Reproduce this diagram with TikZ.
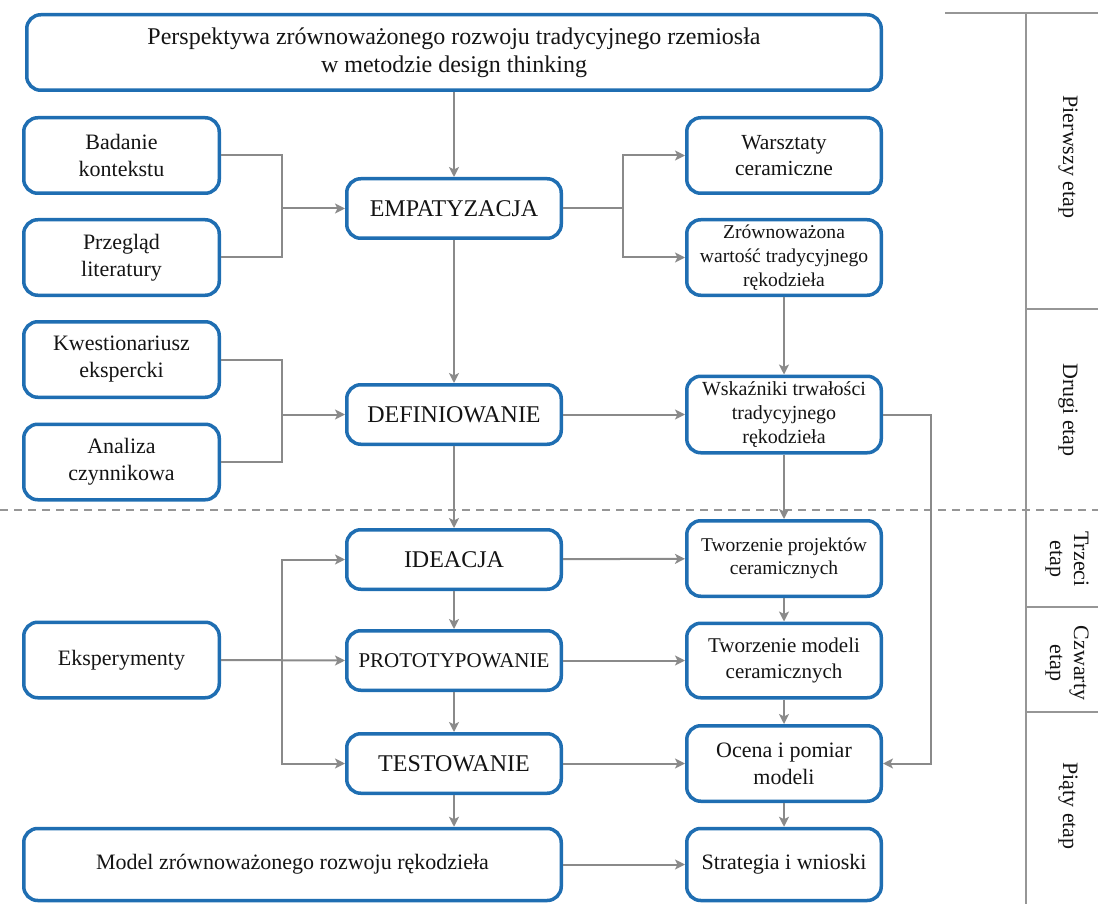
\documentclass[tikz,border=0pt]{standalone}
\usepackage{fontspec}
\setmainfont{Liberation Serif}
\usetikzlibrary{arrows.meta}
\definecolor{boxblue}{RGB}{31,110,178}
\definecolor{linegray}{RGB}{138,138,138}
\definecolor{rulegray}{RGB}{150,150,150}

\begin{document}
\begin{tikzpicture}[x=1pt,y=-1pt,
  box/.style={draw=boxblue, line width=3.5pt, rounded corners=14pt, fill=white,
              align=center, inner sep=2pt, text=black!92},
  sidebox/.style={box, minimum width=195.5pt, minimum height=75.5pt},
  midbox/.style={box, minimum width=214.5pt, minimum height=59.5pt},
  rightbox/.style={box, minimum width=194.5pt, minimum height=75.5pt},
  conn/.style={draw=linegray, line width=2pt},
  arr/.style={conn, -{Stealth[length=10pt, width=10pt, inset=2.5pt]}},
  stage/.style={rotate=-90, align=center, text=black!92, font=\fontsize{22}{24}\selectfont},
  rule/.style={draw=rulegray, line width=1.8pt}
]
\useasboundingbox (0,0) rectangle (1098,904);

% phase separator and stage column
\draw[rule, dashed, dash pattern=on 8pt off 6pt] (0,510) -- (1098,510);
\draw[rule] (945,13) -- (1098,13);
\draw[rule] (1026,13) -- (1026,904);
\draw[rule] (1026,309) -- (1098,309);
\draw[rule] (1026,607) -- (1098,607);
\draw[rule] (1026,712) -- (1098,712);

\node[stage] (s1) at (1068,157) {Pierwszy etap};
\node[stage] (s2) at (1068,410) {Drugi etap};
\node[stage] (s3) at (1067,559) {Trzeci\\etap};
\node[stage] (s4) at (1067,663) {Czwarty\\etap};
\node[stage] (s5) at (1068,806) {Piąty etap};

% boxes
\node[box, minimum width=854.5pt, minimum height=75.5pt, font=\fontsize{24}{28}\selectfont]
  (top) at (454,52.5) {Perspektywa zrównoważonego rozwoju tradycyjnego rzemiosła\\w metodzie design thinking};

\node[sidebox, font=\fontsize{22}{27}\selectfont] (bad) at (121.5,155.5) {Badanie\\kontekstu};
\node[sidebox, font=\fontsize{22}{27}\selectfont] (prz) at (121.5,257.5) {Przegląd\\literatury};
\node[sidebox, font=\fontsize{22}{27}\selectfont] (kwe) at (121.5,359.5) {Kwestionariusz\\ekspercki};
\node[sidebox, font=\fontsize{22}{27}\selectfont] (ana) at (121.5,462) {Analiza\\czynnikowa};
\node[sidebox, font=\fontsize{22}{27}\selectfont] (eks) at (121.5,660) {Eksperymenty};

\node[midbox, font=\fontsize{24}{28}\selectfont] (emp) at (454,208.5) {EMPATYZACJA};
\node[midbox, font=\fontsize{24}{28}\selectfont] (def) at (454,414.5) {DEFINIOWANIE};
\node[midbox, font=\fontsize{24}{28}\selectfont] (ide) at (454,559.5) {IDEACJA};
\node[midbox, font=\fontsize{21}{25}\selectfont] (pro) at (454,660.5) {PROTOTYPOWANIE};
\node[midbox, font=\fontsize{24}{28}\selectfont] (tes) at (454,763.5) {TESTOWANIE};

\node[box, minimum width=537.5pt, minimum height=72pt, font=\fontsize{22}{27}\selectfont]
  (mod) at (292.5,864.5) {Model zrównoważonego rozwoju rękodzieła};

\node[rightbox, font=\fontsize{21.5}{26}\selectfont] (war) at (784,155.5) {Warsztaty\\ceramiczne};
\node[rightbox, font=\fontsize{19.6}{24}\selectfont] (zro) at (784,257.5) {Zrównoważona\\wartość tradycyjnego\\rękodzieła};
\node[rightbox, minimum height=76.5pt, font=\fontsize{20}{24}\selectfont] (wsk) at (784,414.5) {Wskaźniki trwałości\\tradycyjnego\\rękodzieła};
\node[rightbox, font=\fontsize{19.5}{23.5}\selectfont] (tpr) at (784,558.5) {Tworzenie projektów\\ceramicznych};
\node[rightbox, minimum height=74.5pt, font=\fontsize{21}{26}\selectfont] (tmo) at (784,660.5) {Tworzenie modeli\\ceramicznych};
\node[rightbox, font=\fontsize{22}{27}\selectfont] (oce) at (784,763.5) {Ocena i pomiar\\modeli};
\node[rightbox, minimum height=72pt, font=\fontsize{22}{27}\selectfont] (str) at (784,864.5) {Strategia i wnioski};

% junction points
\coordinate (j1) at (282,208.5);
\coordinate (j2) at (623,208.5);
\coordinate (j3) at (282,414.5);
\coordinate (j4) at (282,660.5);
\coordinate (fb) at (931,414.5);

% connectors
\draw[arr] (top) -- (emp);
\draw[conn] (bad.east) -| (j1);
\draw[conn] (prz.east) -| (j1);
\draw[arr] (j1) -- (emp.west);

\draw[conn] (emp.east) -- (j2);
\draw[arr] (j2) |- (war.west);
\draw[arr] (j2) |- (zro.west);

\draw[arr] (emp) -- (def);
\draw[conn] (kwe.east) -| (j3);
\draw[conn] (ana.east) -| (j3);
\draw[arr] (j3) -- (def.west);

\draw[arr] (zro) -- (wsk);
\draw[arr] (def) -- (wsk);
\draw[arr] (wsk.east) -| (fb |- oce.east) -- (oce.east);

\draw[arr] (def) -- (ide);
\draw[arr] (wsk) -- (tpr);

\draw[arr] (ide) -- (pro);
\draw[arr] (pro) -- (tes);
\draw[arr] (tes.south) -- (tes.south |- mod.north);

\draw[arr] (eks.east) -- (pro.west);
\draw[arr] (j4) |- (ide.west);
\draw[arr] (j4) |- (tes.west);

\draw[arr] (ide) -- (tpr);
\draw[arr] (pro) -- (tmo);
\draw[arr] (tes) -- (oce);
\draw[arr] (mod.east |- str.west) -- (str.west);

\draw[arr] (tpr) -- (tmo);
\draw[arr] (tmo) -- (oce);
\draw[arr] (oce) -- (str);
\end{tikzpicture}
\end{document}
